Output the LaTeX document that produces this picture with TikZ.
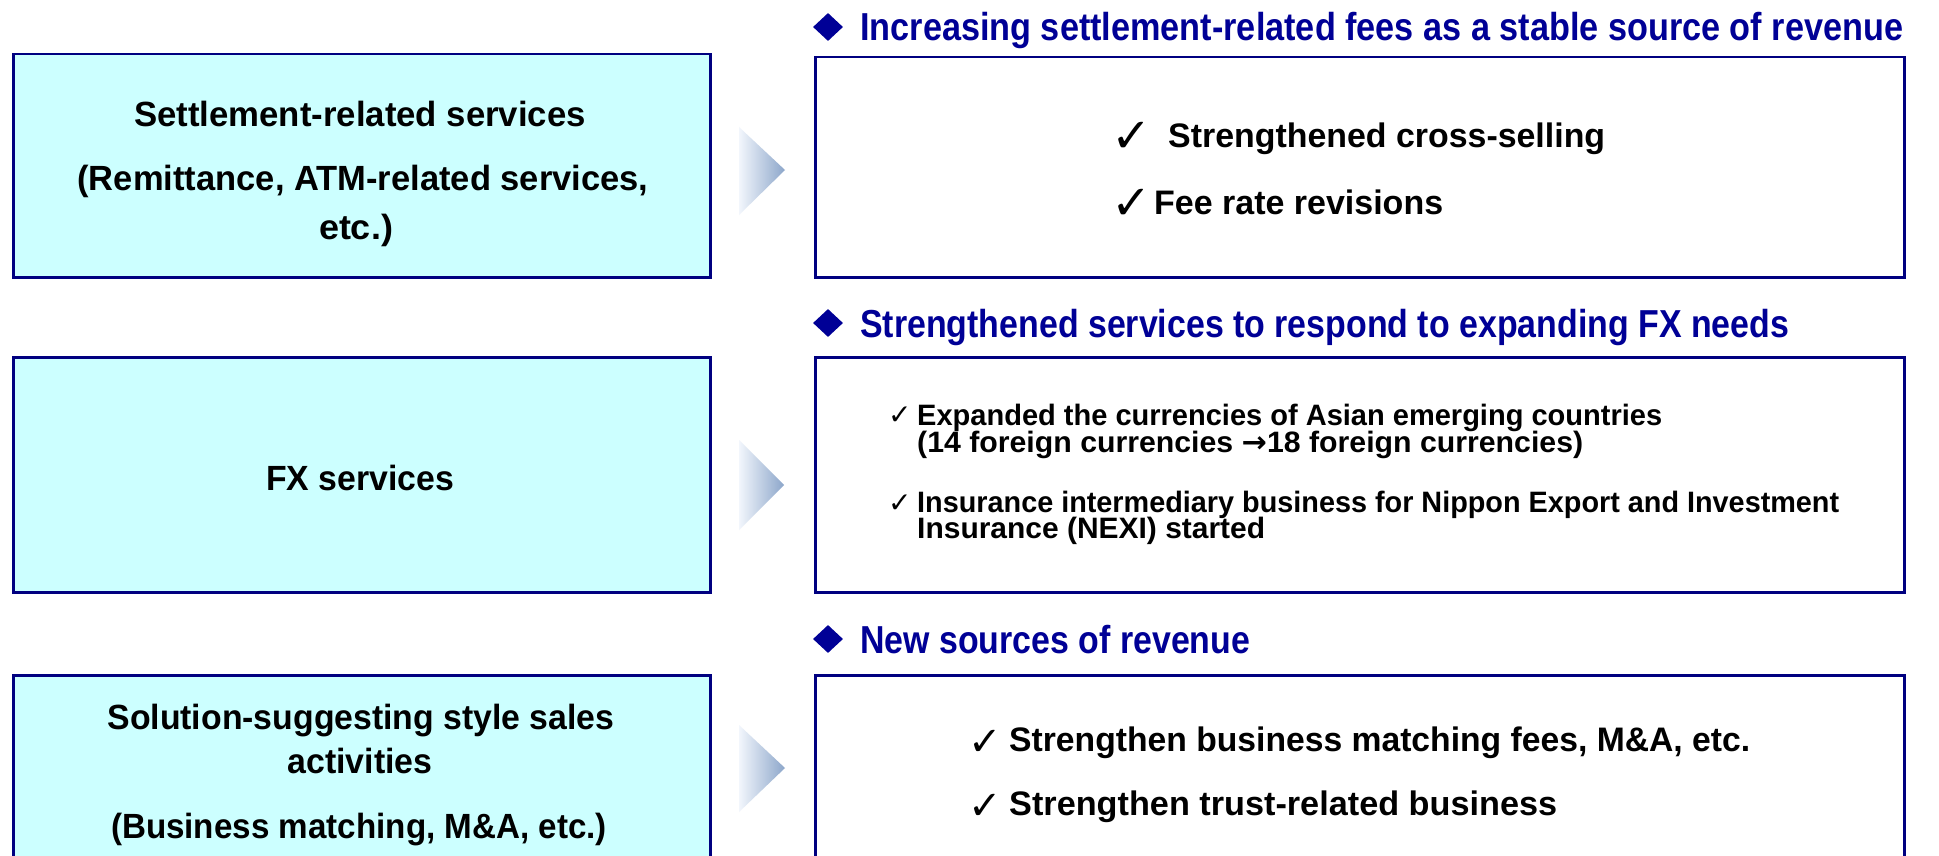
\documentclass[tikz,border=0pt]{standalone}
\usepackage{fontspec}
\usepackage{graphicx}
\usetikzlibrary{shapes.geometric}
\setmainfont{Liberation Sans}
\newfontfamily\symf{DejaVu Sans}
\definecolor{navy}{RGB}{0,0,128}
\definecolor{hdrblue}{RGB}{0,0,150}
\definecolor{lcyan}{RGB}{204,255,255}
\definecolor{trL}{RGB}{242,246,252}
\definecolor{trR}{RGB}{140,166,202}
\newsavebox\fitbox
\newcommand\fitw[2]{\sbox\fitbox{#2}\pgfmathsetmacro\fitsc{#1/\the\wd\fitbox}\scalebox{\fitsc}[1]{\usebox\fitbox}}
\newcommand\chk{✓}
\tikzset{
  lbox/.style={draw=navy, line width=2.5pt, fill=lcyan, inner sep=0pt, anchor=north west},
  rbox/.style={draw=navy, line width=2.5pt, fill=white, inner sep=0pt, anchor=north west},
  bullet/.style={diamond, fill=hdrblue, minimum width=30pt, minimum height=28pt, inner sep=0pt},
  hdr/.style={anchor=base west, inner sep=0pt, text=hdrblue, font=\bfseries\fontsize{39}{42}\selectfont},
  ctext/.style={anchor=base, inner sep=0pt, font=\bfseries\fontsize{35}{38}\selectfont},
  rtext/.style={anchor=base west, inner sep=0pt, font=\bfseries\fontsize{34}{38}\selectfont},
  ftext/.style={anchor=base west, inner sep=0pt, font=\bfseries\fontsize{29.5}{32}\selectfont},
  chkbig/.style={anchor=base west, inner sep=0pt, font=\symf\fontsize{48}{50}\selectfont},
  chkmid/.style={anchor=base west, inner sep=0pt, font=\symf\fontsize{40}{42}\selectfont},
  chksmall/.style={anchor=base west, inner sep=0pt, font=\symf\fontsize{28}{30}\selectfont},
  tri/.style={left color=trL, right color=trR}
}
\begin{document}
\begin{tikzpicture}[x=1pt,y=-1pt]
\useasboundingbox (0,0) rectangle (1939,856);
\clip (0,0) rectangle (1939,856);
\fill[white] (0,0) rectangle (1939,856);

% left boxes
\node[lbox, minimum width=697pt, minimum height=223pt] (L1) at (12,53) {};
\node[lbox, minimum width=697pt, minimum height=235pt] (L2) at (12,356) {};
\node[lbox, minimum width=697pt, minimum height=230pt] (L3) at (12,674) {};

% right boxes
\node[rbox, minimum width=1089pt, minimum height=220pt] (R1) at (814,56) {};
\node[rbox, minimum width=1089pt, minimum height=235pt] (R2) at (814,356) {};
\node[rbox, minimum width=1089pt, minimum height=230pt] (R3) at (814,674) {};

% arrows
\shade[tri] (739,127) -- (785,170) -- (739,215) -- cycle;
\shade[tri] (739,440) -- (784,485) -- (739,530) -- cycle;
\shade[tri] (739,725) -- (785,768) -- (739,812) -- cycle;

% headers
\node[bullet] (d1) at (828,27) {};
\node[hdr] (h1) at (860,41) {\fitw{1043}{Increasing settlement-related fees as a stable source of revenue}};
\node[bullet] (d2) at (828,323) {};
\node[hdr] (h2) at (860,337) {\fitw{929}{Strengthened services to respond to expanding FX needs}};
\node[bullet] (d3) at (828,639) {};
\node[hdr] (h3) at (860,653) {\fitw{390}{New sources of revenue}};

% left texts
\node[ctext] (l1a) at (360,127) {\fitw{452}{Settlement-related services}};
\node[ctext] (l1b) at (363,190) {\fitw{571}{(Remittance, ATM-related services,}};
\node[ctext] (l1c) at (356,239) {\fitw{74}{etc.)}};
\node[ctext] (l2a) at (360,490) {\fitw{188}{FX services}};
\node[ctext] (l3a) at (361,729) {\fitw{507}{Solution-suggesting style sales}};
\node[ctext] (l3b) at (360,773) {\fitw{145}{activities}};
\node[ctext] (l3c) at (359,838) {\fitw{496}{(Business matching, M\&A, etc.)}};

% right box 1
\node[chkbig] (c1a) at (1111,153) {\chk};
\node[rtext] (t1a) at (1168,148) {\fitw{437}{Strengthened cross-selling}};
\node[chkbig] (c1b) at (1111,219) {\chk};
\node[rtext] (t1b) at (1154,214) {\fitw{289}{Fee rate revisions}};

% right box 2
\node[chksmall] (c2a) at (888,424) {\chk};
\node[ftext] (t2a) at (917,425) {\fitw{745}{Expanded the currencies of Asian emerging countries}};
\node[ftext] (t2b) at (917,452) {\fitw{666}{(14 foreign currencies {\symf →}18 foreign currencies)}};
\node[chksmall] (c2b) at (888,512) {\chk};
\node[ftext] (t2c) at (917,512) {\fitw{922}{Insurance intermediary business for Nippon Export and Investment}};
\node[ftext] (t2d) at (917,538) {\fitw{348}{Insurance (NEXI) started}};

% right box 3
\node[chkmid] (c3a) at (968,755) {\chk};
\node[rtext] (t3a) at (1009,751) {\fitw{741}{Strengthen business matching fees, M\&A, etc.}};
\node[chkmid] (c3b) at (968,819) {\chk};
\node[rtext] (t3b) at (1009,815) {\fitw{548}{Strengthen trust-related business}};
\end{tikzpicture}
\end{document}
